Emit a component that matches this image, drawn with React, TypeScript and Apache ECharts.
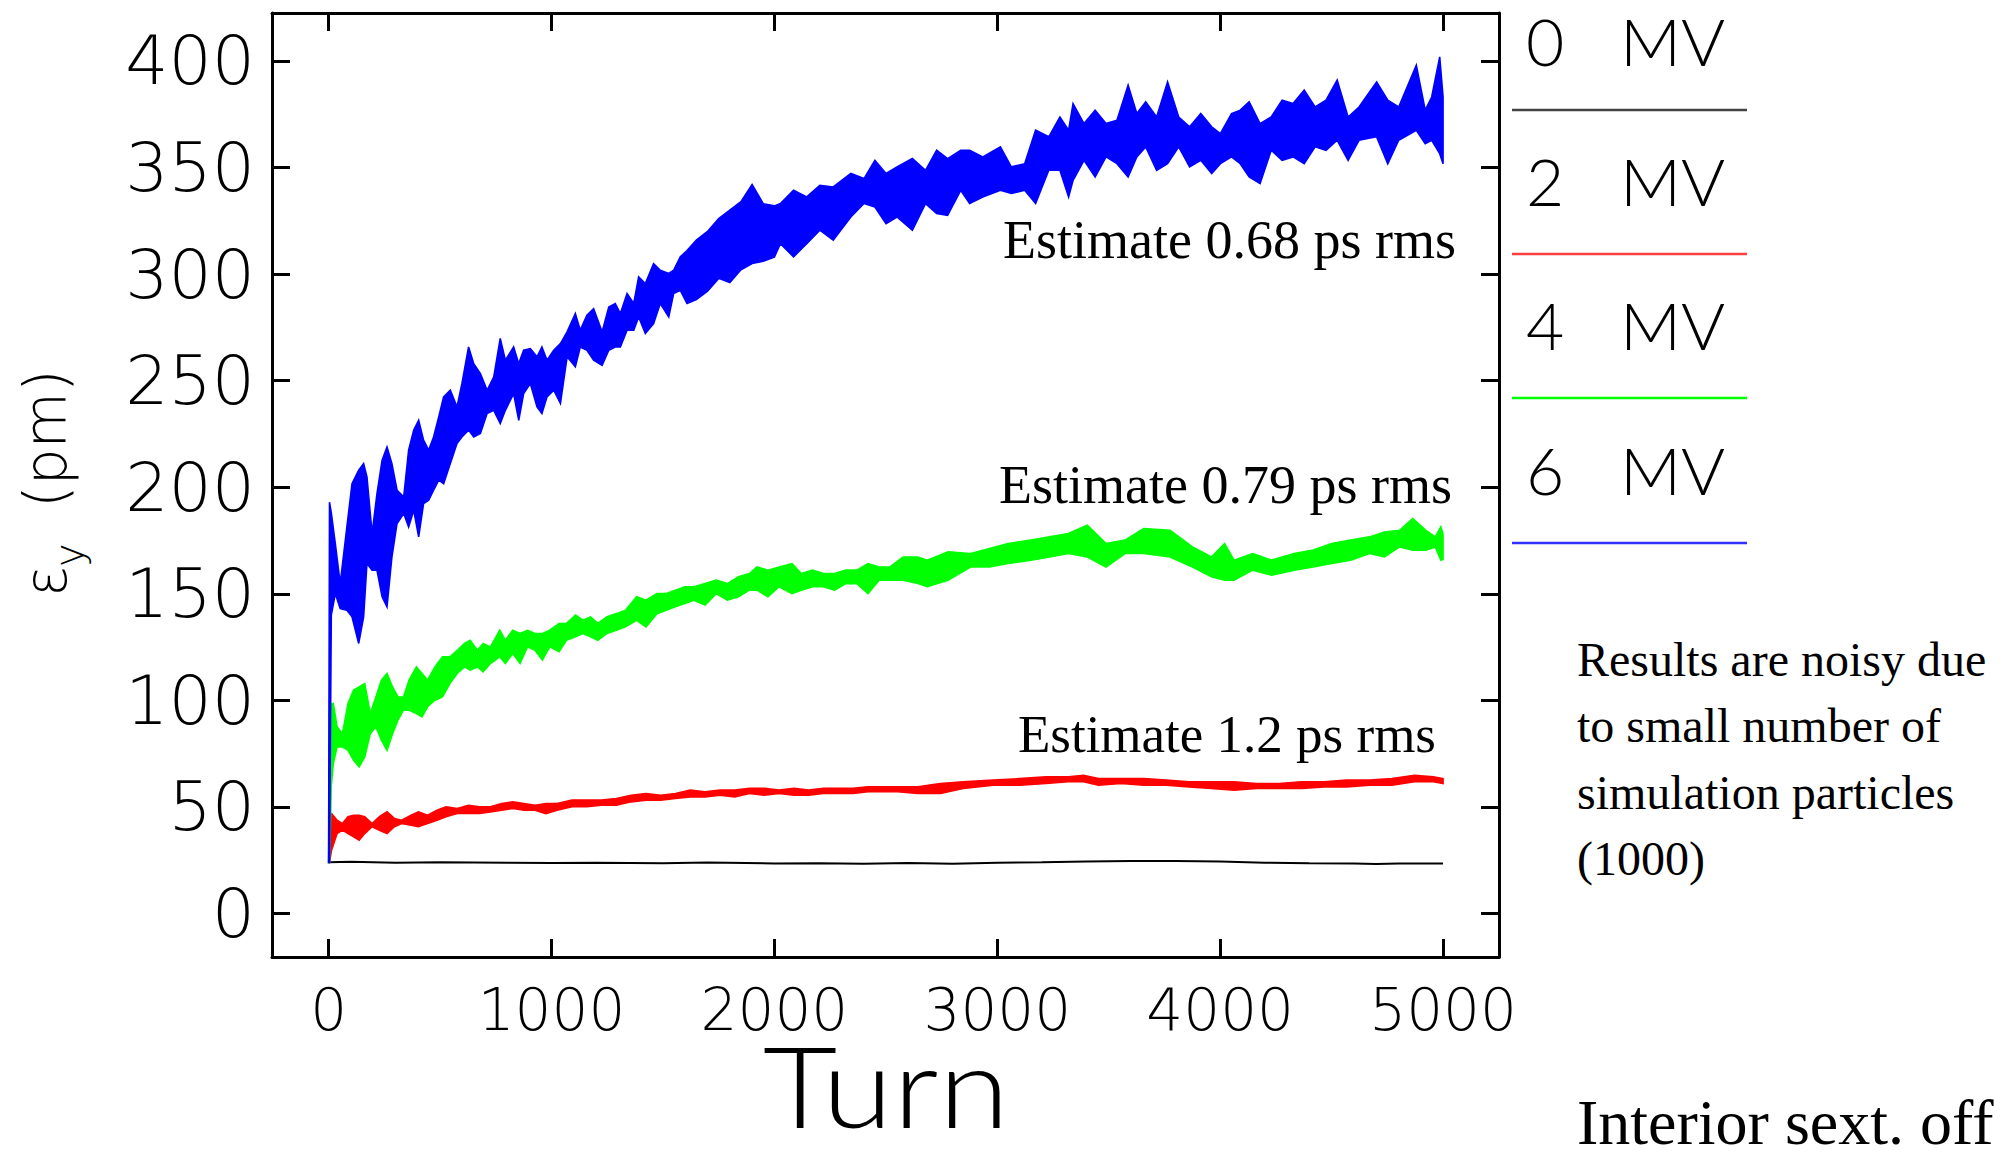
import React, { useEffect, useRef } from "react";
import * as echarts from "echarts";

// ---------- data ----------
const xTicks = [0, 1000, 2000, 3000, 4000, 5000];
const yTicks = [0, 50, 100, 150, 200, 250, 300, 350, 400];
const legendNames = ["0 MV", "2 MV", "4 MV", "6 MV"];
const legendColors = ["#444444", "#ff4040", "#00ff00", "#3030ff"];
const seriesColors = ["#000000", "#ff0000", "#00ff00", "#0000ff"];

// 0 MV (thin black line)
const blackTurns = [0, 100, 300, 500, 800, 1000, 1200, 1500, 1700, 2000, 2200, 2400, 2600, 2800, 3000, 3200, 3400, 3600, 3800, 4000, 4200, 4400, 4600, 4700, 4800, 5000];
const blackValues = [24, 24.3, 23.8, 24, 23.8, 23.7, 23.8, 23.6, 23.9, 23.5, 23.6, 23.3, 23.7, 23.4, 23.8, 24, 24.4, 24.6, 24.6, 24.4, 23.8, 23.6, 23.5, 23.2, 23.5, 23.5];

// 2 MV (red band: upper / lower envelope)
const redTurns = [0, 4, 13, 38, 62, 87, 112, 137, 162, 195, 228, 262, 295, 328, 370, 403, 444, 486, 527, 577, 627, 677, 726, 776, 826, 876, 926, 975, 1025, 1092, 1158, 1224, 1291, 1357, 1424, 1490, 1556, 1623, 1689, 1756, 1822, 1888, 1955, 2021, 2088, 2154, 2220, 2287, 2353, 2420, 2486, 2552, 2644, 2745, 2847, 2982, 3100, 3218, 3319, 3387, 3454, 3556, 3657, 3758, 3860, 3961, 4062, 4163, 4265, 4366, 4467, 4568, 4670, 4771, 4872, 4957, 5000];
const redHi = [24, 47, 46.9, 43.8, 42.2, 45.4, 46.1, 46.1, 45.4, 42.2, 45.4, 47.7, 44.6, 43.8, 46.1, 47.7, 46.1, 48.5, 50.1, 49.3, 50.8, 50.1, 50.1, 51.6, 52.4, 51.6, 50.8, 51.6, 51.6, 53.2, 53.2, 53.2, 54, 55.5, 56.3, 55.5, 56.3, 57.9, 57.1, 57.9, 57.9, 58.7, 58.7, 57.9, 58.7, 57.9, 58.7, 58.7, 58.7, 59.4, 59.4, 59.4, 59.4, 61, 61.8, 62.6, 63.3, 64.1, 64.1, 64.9, 63.3, 63.3, 63.3, 62.6, 61.8, 61.8, 61.8, 61, 61, 61.8, 61.8, 62.6, 62.6, 63.3, 64.9, 64.1, 63.3];
const redLo = [24, 24, 29.7, 37.5, 39.1, 37.5, 36, 34.4, 37.5, 40.7, 39.1, 37.5, 40.7, 42.2, 41.4, 40.7, 42.2, 43.8, 45.4, 46.9, 46.9, 46.9, 47.7, 48.5, 49.3, 48.5, 48.5, 46.9, 48.5, 50.1, 50.1, 50.8, 50.8, 52.4, 53.2, 53.2, 54, 54.7, 54.7, 55.5, 54.7, 56.3, 55.5, 56.3, 55.5, 55.5, 56.3, 56.3, 56.3, 57.1, 57.1, 57.1, 56.3, 56.3, 58.7, 60.2, 60.2, 61, 61.8, 61.8, 60.2, 61, 60.2, 60.2, 59.4, 58.7, 57.9, 58.7, 58.7, 58.7, 59.4, 59.4, 60.2, 60.2, 61.8, 61.8, 61];

// 4 MV (green band)
const greenTurns = [0, 4, 12, 21, 38, 62, 87, 112, 137, 162, 187, 212, 237, 262, 287, 311, 336, 361, 394, 419, 444, 477, 511, 544, 577, 610, 635, 668, 693, 726, 768, 793, 826, 859, 892, 926, 959, 992, 1034, 1067, 1108, 1141, 1175, 1208, 1249, 1291, 1332, 1382, 1424, 1473, 1515, 1556, 1598, 1639, 1689, 1739, 1789, 1839, 1888, 1922, 1971, 2021, 2079, 2121, 2171, 2220, 2270, 2320, 2370, 2420, 2470, 2519, 2577, 2644, 2686, 2779, 2880, 2965, 3049, 3151, 3235, 3319, 3404, 3488, 3573, 3657, 3775, 3876, 3961, 4020, 4062, 4146, 4231, 4332, 4417, 4501, 4585, 4670, 4737, 4805, 4864, 4923, 4965, 4990, 5000];
const greenHi = [24, 100, 98, 98.5, 87.6, 84.4, 98.5, 104.8, 106.3, 107.9, 93.8, 101.6, 109.5, 112.6, 106.3, 101.6, 101.6, 109.5, 115.7, 112.6, 109.5, 115.7, 120.4, 120.4, 123.5, 126.7, 128.2, 123.5, 126.7, 125.1, 132.9, 128.2, 132.9, 131.4, 132.9, 131.4, 131.4, 132.9, 136.1, 136.1, 140, 137.6, 139.2, 136.1, 139.2, 140.7, 142.3, 148.6, 147, 150.1, 150.1, 151.7, 153.3, 153.3, 154.8, 156.4, 154.8, 158, 159.5, 162.6, 161.1, 162.6, 164.2, 159.5, 161.1, 159.5, 159.5, 161.1, 161.1, 164.2, 162.6, 162.6, 167.3, 167.3, 165.8, 169.7, 168.9, 171.2, 173.6, 175.2, 176.7, 178.3, 182.2, 173.6, 175.2, 180.6, 179.8, 172, 167.3, 173.6, 165.8, 168.9, 165.8, 168.9, 170.5, 173.6, 175.2, 176.7, 179, 179.8, 185.3, 179.8, 176.7, 181.4, 178];
const greenLo = [24, 24, 60, 70.4, 78.2, 78.2, 76.6, 71.9, 68.8, 73.5, 84.4, 87.6, 81.3, 76.6, 84.4, 90.7, 95.4, 95.4, 93.8, 92.3, 97, 100.1, 101.6, 107.9, 112.6, 115.7, 114.2, 115.7, 113.4, 117.3, 120.4, 117.3, 122, 117.3, 125.1, 123.5, 118.9, 125.1, 122.8, 128.2, 129.8, 131.4, 129.8, 128.2, 131.4, 132.9, 134.5, 137.6, 134.5, 140.7, 142.3, 143.9, 145.4, 147, 144.7, 150.1, 147, 148.6, 151.7, 151.7, 148.6, 153.3, 150.1, 151.7, 153.3, 153.3, 151.7, 154.8, 154.8, 150.1, 156.4, 156.4, 156.4, 154.8, 153.3, 156.4, 162.6, 162.6, 164.2, 165.8, 167.3, 168.9, 167.3, 162.6, 168.9, 168.9, 167.3, 162.6, 158, 156.4, 156.4, 161.1, 158.7, 161.1, 162.6, 164.2, 165.8, 168.9, 167.3, 172, 170.5, 170.5, 172, 165.8, 166];

// 6 MV (blue band)
const blueTurns = [0, 4, 12, 30, 52, 82, 105, 135, 157, 172, 195, 217, 240, 262, 284, 307, 337, 359, 382, 404, 426, 449, 471, 494, 516, 546, 576, 598, 628, 651, 681, 711, 741, 770, 793, 830, 853, 875, 905, 935, 957, 980, 1010, 1040, 1070, 1107, 1129, 1159, 1189, 1227, 1257, 1286, 1309, 1339, 1369, 1391, 1421, 1458, 1488, 1526, 1548, 1578, 1608, 1650, 1700, 1750, 1800, 1850, 1900, 1950, 2000, 2027, 2086, 2145, 2204, 2264, 2343, 2402, 2451, 2501, 2550, 2619, 2678, 2728, 2777, 2836, 2876, 2935, 3014, 3063, 3123, 3172, 3231, 3281, 3320, 3340, 3389, 3439, 3488, 3537, 3587, 3626, 3666, 3715, 3764, 3814, 3863, 3913, 3962, 4001, 4051, 4090, 4130, 4179, 4229, 4278, 4327, 4377, 4426, 4475, 4525, 4574, 4623, 4702, 4752, 4801, 4880, 4920, 4949, 4985, 5000];
const blueHi = [24, 193, 188, 173.6, 154.8, 181.4, 201.7, 208, 211.1, 204.9, 178.3, 197, 212.7, 218.9, 211.1, 198.6, 195.5, 217.4, 226.8, 231.4, 222.1, 217.4, 223.6, 233, 242.4, 245.5, 237.7, 248.6, 265.8, 258, 253.3, 245.5, 251.8, 269.8, 259.6, 265.8, 258, 264.3, 265, 261.2, 265.8, 259.6, 264.3, 267.4, 272.9, 281.5, 273.7, 280.7, 283.8, 272.9, 284.6, 286.2, 281.5, 290.9, 286.2, 298.7, 295.6, 304.9, 301.8, 300.3, 301.8, 308.1, 311, 316, 320, 326, 330, 334, 342, 333, 332, 333.1, 339.3, 336.2, 341.7, 340.9, 347.2, 344.8, 353.4, 347.2, 350.3, 354.2, 348.7, 358.1, 354.2, 358.1, 358.1, 355, 359.7, 350.3, 351.8, 367.5, 364.4, 373.7, 367.5, 380, 370.6, 376.9, 370.6, 372.2, 388.6, 375.3, 380.8, 373.7, 390.2, 373.7, 369.1, 375.3, 369.1, 365.9, 375.3, 376.9, 380.8, 370.6, 373.7, 381.6, 380, 386.3, 378.4, 381.6, 391, 373.7, 378.4, 390.2, 381.6, 378.4, 398, 376.9, 383.1, 401.9, 383.1];
const blueLo = [24, 24, 140, 150.1, 143.1, 142.3, 139.2, 126.7, 139.2, 164.2, 161.1, 161.1, 148.6, 143.9, 167.3, 183, 187.7, 181.4, 189.2, 176.7, 192.3, 193.9, 198.6, 203.3, 201.7, 211.1, 220.5, 223.6, 226.8, 223.6, 225.2, 234.6, 236.1, 229.9, 236.1, 243.9, 231.4, 243.9, 248.6, 237.7, 234.6, 242.4, 245.5, 239.3, 261.2, 256.5, 265.8, 264.3, 259.6, 257.2, 264.3, 265.8, 265.8, 273.7, 273.7, 279.9, 272.1, 276.8, 286.2, 279.9, 290.9, 292.4, 286.2, 288, 292, 298, 296, 302, 305, 306, 308, 314.3, 308.1, 314.3, 320.6, 315.9, 326.8, 333.1, 331.5, 323.7, 326.8, 320.6, 333.1, 328.4, 327.6, 339.3, 333.1, 336.2, 339.3, 337.8, 339.3, 333.1, 348.7, 348.7, 336.2, 344, 353.4, 345.6, 355, 351.8, 345.6, 355, 359.7, 348.7, 351.8, 359.7, 350.3, 353.4, 347.2, 351.8, 355, 351.8, 345.6, 342.5, 358.1, 353.4, 355, 351.8, 359.7, 358.1, 362.8, 353.4, 362.8, 364.4, 351.8, 362.8, 367.5, 361.2, 362.8, 356.5, 351.8];

// ---------- layout ----------
const X_MIN = -254;
const X_MAX = 5251;
const Y_MIN = -20.4;
const Y_MAX = 422.5;
const SANS = "Lato";
const WIDE = "'DejaVu Sans', Lato, sans-serif";
const SERIF = "'Liberation Serif', 'Times New Roman', serif";

function band(name: string, turns: number[], hi: number[], lo: number[], color: string, z: number) {
  return {
    type: "custom",
    name,
    coordinateSystem: "cartesian2d",
    data: [[turns[0], hi[0]]],
    silent: true,
    z,
    renderItem: (_params: any, api: any) => {
      const pts: number[][] = [];
      for (let i = 0; i < turns.length; i++) pts.push(api.coord([turns[i], hi[i]]));
      for (let i = turns.length - 1; i >= 0; i--) pts.push(api.coord([turns[i], lo[i]]));
      return {
        type: "polygon",
        shape: { points: pts },
        style: { fill: color, stroke: color, lineWidth: 1.6 },
      };
    },
  };
}

function txt(text: string, x: number, y: number, size: number, family: string, weight: any, align: string, extra: any = {}) {
  return {
    type: "text",
    x,
    y,
    silent: true,
    ...extra,
    style: {
      text,
      fill: "#000",
      fontSize: size,
      fontFamily: family,
      fontWeight: weight,
      align,
      textAlign: align,
      verticalAlign: "middle",
      textVerticalAlign: "middle",
    },
  };
}

export default function App() {
  const ref = useRef<HTMLDivElement>(null);

  useEffect(() => {
    if (!ref.current) return;
    const chart = echarts.init(ref.current, null, { renderer: "svg" });

    const tickStyle = { color: "#000", width: 3 };
    const lineStyle = { color: "#000", width: 3 };

    // middle of each legend text row, and y of each legend sample line
    const legendRowsY = [40, 180, 324, 469];
    const legendLinesY = [110, 254, 398, 543];
    const legendEls: any[] = [];
    legendNames.forEach((nm, i) => {
      const [num, unit] = nm.split(" ");
      legendEls.push(txt(num, 1526, legendRowsY[i], 66, SANS, 300, "left"));
      legendEls.push(txt(unit, 1620, legendRowsY[i], 66, SANS, 300, "left", { scaleX: 1.02 }));
      legendEls.push({
        type: "line",
        silent: true,
        shape: { x1: 1512, y1: legendLinesY[i], x2: 1747, y2: legendLinesY[i] },
        style: { stroke: legendColors[i], lineWidth: 2.5 },
      });
    });

    const option: any = {
      animation: false,
      backgroundColor: "#ffffff",
      grid: { left: 272, top: 13, width: 1227, height: 944, containLabel: false },
      xAxis: [
        {
          type: "value",
          position: "bottom",
          min: X_MIN,
          max: X_MAX,
          axisLine: { show: true, onZero: false, lineStyle },
          axisTick: { show: true, inside: true, length: 18, lineStyle: tickStyle, customValues: xTicks },
          axisLabel: {
            show: true,
            customValues: xTicks,
            formatter: (v: number) => String(v),
            fontFamily: WIDE,
            fontWeight: 200,
            fontSize: 58,
            color: "#000",
            margin: 24,
          },
          splitLine: { show: false },
        },
        {
          type: "value",
          position: "top",
          min: X_MIN,
          max: X_MAX,
          axisLine: { show: true, onZero: false, lineStyle },
          axisTick: { show: true, inside: true, length: 18, lineStyle: tickStyle, customValues: xTicks },
          axisLabel: { show: false },
          splitLine: { show: false },
        },
      ],
      yAxis: [
        {
          type: "value",
          position: "left",
          min: Y_MIN,
          max: Y_MAX,
          axisLine: { show: true, onZero: false, lineStyle },
          axisTick: { show: true, inside: true, length: 18, lineStyle: tickStyle, customValues: yTicks },
          axisLabel: {
            show: true,
            customValues: yTicks,
            formatter: (v: number) => String(v),
            fontFamily: WIDE,
            fontWeight: 200,
            fontSize: 68,
            color: "#000",
            margin: 17,
            verticalAlign: "middle",
            padding: [0, 0, 48, 0],
          },
          splitLine: { show: false },
        },
        {
          type: "value",
          position: "right",
          min: Y_MIN,
          max: Y_MAX,
          axisLine: { show: true, onZero: false, lineStyle },
          axisTick: { show: true, inside: true, length: 18, lineStyle: tickStyle, customValues: yTicks },
          axisLabel: { show: false },
          splitLine: { show: false },
        },
      ],
      series: [
        {
          type: "line",
          name: legendNames[0],
          data: blackTurns.map((t, i) => [t, blackValues[i]]),
          showSymbol: false,
          symbol: "none",
          lineStyle: { color: seriesColors[0], width: 2 },
          z: 2,
          silent: true,
        },
        band(legendNames[1], redTurns, redHi, redLo, seriesColors[1], 3),
        band(legendNames[2], greenTurns, greenHi, greenLo, seriesColors[2], 4),
        band(legendNames[3], blueTurns, blueHi, blueLo, seriesColors[3], 5),
      ],
      graphic: {
        elements: [
          // y-axis title (rotated)
          {
            type: "group",
            x: 66,
            y: 597,
            rotation: Math.PI / 2,
            silent: true,
            children: [
              txt("ε", 0, -20, 58, WIDE, 200, "left"),
              txt("y", 30, 3, 40, WIDE, 200, "left"),
              txt("(pm)", 89, -20, 58, WIDE, 200, "left"),
            ],
          },
          // x-axis title
          txt("Turn", 886, 1084, 113, SANS, 300, "center", { scaleX: 1.14 }),
          // annotations
          txt("Estimate 0.68 ps rms", 1456, 240, 54, SERIF, "normal", "right"),
          txt("Estimate 0.79 ps rms", 1452, 485, 54, SERIF, "normal", "right"),
          txt("Estimate 1.2 ps rms", 1436, 734, 53, SERIF, "normal", "right"),
          txt("Results are noisy due", 1577, 659, 48, SERIF, "normal", "left"),
          txt("to small number of", 1577, 725, 48, SERIF, "normal", "left"),
          txt("simulation particles", 1577, 792, 48, SERIF, "normal", "left"),
          txt("(1000)", 1577, 858, 48, SERIF, "normal", "left"),
          txt("Interior sext. off", 1577, 1122, 64, SERIF, "normal", "left"),
          ...legendEls,
        ],
      },
    };

    chart.setOption(option);
    return () => chart.dispose();
  }, []);

  return (
    <div
      ref={ref}
      style={{ position: "fixed", left: 0, top: 0, width: 2008, height: 1158, background: "#fff" }}
    />
  );
}
